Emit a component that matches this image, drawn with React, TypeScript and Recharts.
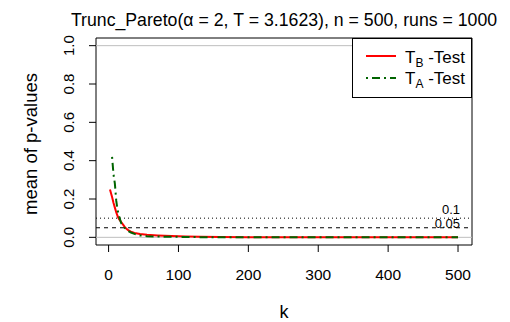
import { ComposedChart, Line, XAxis, YAxis, ReferenceLine, ReferenceArea } from 'recharts';

const kValues = [2, 5, 7, 9, 11, 13, 15, 18, 21, 24, 28, 32, 37, 45, 55, 70, 90, 110, 130, 160, 200, 300, 400, 500];
const tBValues = [0.25, 0.21, 0.18, 0.155, 0.13, 0.11, 0.095, 0.08, 0.065, 0.05, 0.037, 0.03, 0.023, 0.017, 0.013, 0.01, 0.007, 0.005, 0.003, 0.002, 0.001, 0.0005, 0.0003, 0.0002];
const tAValues = [null, 0.42, 0.33, 0.28, 0.19, 0.14, 0.11, 0.075, 0.058, 0.045, 0.033, 0.025, 0.018, 0.01, 0.006, 0.004, 0.003, 0.002, 0.001, 0.0005, 0.0004, 0.0002, 0.0001, 0.0001];
const xTicks = [0, 100, 200, 300, 400, 500];
const yTicks = [0, 0.2, 0.4, 0.6, 0.8, 1.0];

const data = kValues.map((k, i) => ({ k, tB: tBValues[i], tA: tAValues[i] }));

const FONT = '"Liberation Sans", Arial, sans-serif';

const YTick = ({ y, payload }: any) => (
  <text
    x={74}
    y={y}
    transform={`rotate(-90, 74, ${y})`}
    textAnchor="middle"
    fontSize={15}
    fontFamily={FONT}
    fill="#000"
  >
    {payload.value.toFixed(1)}
  </text>
);

const XTick = ({ x, payload }: any) => (
  <text x={x} y={280} textAnchor="middle" fontSize={15.5} fontFamily={FONT} fill="#000">
    {payload.value}
  </text>
);

const lineLabel = (txt: string, dy: number) => (props: any) => {
  const { viewBox } = props;
  return (
    <text
      x={viewBox.x + viewBox.width - 12}
      y={viewBox.y + dy}
      textAnchor="end"
      fontSize={13}
      fontFamily={FONT}
      fill="#000"
    >
      {txt}
    </text>
  );
};

export default function App() {
  return (
    <div style={{ position: 'absolute', left: 0, top: 0, width: 510, height: 322, background: '#fff' }}>
      <ComposedChart
        width={510}
        height={322}
        data={data}
        margin={{ top: 38, right: 38, left: 0, bottom: 0 }}
      >
        <XAxis
          dataKey="k"
          type="number"
          domain={[-18, 520]}
          ticks={xTicks}
          height={77}
          tickSize={7}
          axisLine={false}
          tickLine={{ stroke: '#000' }}
          tick={<XTick />}
          allowDataOverflow
        />
        <YAxis
          type="number"
          domain={[-0.04, 1.04]}
          ticks={yTicks}
          width={96}
          tickSize={7}
          axisLine={false}
          tickLine={{ stroke: '#000' }}
          tick={<YTick />}
          allowDataOverflow
        />
        <ReferenceLine y={0} stroke="#bebebe" strokeWidth={1} />
        <ReferenceLine y={1} stroke="#bebebe" strokeWidth={1} />
        <ReferenceLine y={0.1} stroke="#000" strokeDasharray="1 3" label={lineLabel('0.1', -4)} />
        <ReferenceLine y={0.05} stroke="#000" strokeDasharray="4 4" label={lineLabel('0.05', 0)} />
        <Line
          dataKey="tB"
          type="linear"
          stroke="#ff0000"
          strokeWidth={2}
          dot={false}
          isAnimationActive={false}
        />
        <Line
          dataKey="tA"
          type="linear"
          stroke="#006400"
          strokeWidth={2}
          strokeDasharray="2 4 8 4"
          dot={false}
          isAnimationActive={false}
        />
        <ReferenceArea
          x1={-18}
          x2={520}
          y1={-0.04}
          y2={1.04}
          fill="none"
          fillOpacity={0}
          stroke="#000"
          strokeWidth={1}
          ifOverflow="visible"
        />
      </ComposedChart>
      <svg
        width={510}
        height={322}
        style={{ position: 'absolute', left: 0, top: 0, pointerEvents: 'none' }}
        fontFamily={FONT}
      >
        <text x={284} y={26} textAnchor="middle" fontSize={17.7} fill="#000">
          Trunc_Pareto(α = 2, T = 3.1623), n = 500, runs = 1000
        </text>
        <text
          x={37}
          y={144}
          transform="rotate(-90, 37, 144)"
          textAnchor="middle"
          fontSize={18.5}
          fill="#000"
        >
          mean of p-values
        </text>
        <text x={284} y={318} textAnchor="middle" fontSize={18} fill="#000">
          k
        </text>
        <rect x={352.5} y={38.5} width={119} height={59} fill="#fff" stroke="#000" strokeWidth={1} />
        <line x1={366} y1={56} x2={396} y2={56} stroke="#ff0000" strokeWidth={2} />
        <line x1={366} y1={78} x2={396} y2={78} stroke="#006400" strokeWidth={2} strokeDasharray="2 4 8 4" />
        <text x={405} y={62.5} fontSize={17} fill="#000">
          T<tspan fontSize={12} dy={4}>B</tspan>
          <tspan dy={-4}> -Test</tspan>
        </text>
        <text x={405} y={83.5} fontSize={17} fill="#000">
          T<tspan fontSize={12} dy={4}>A</tspan>
          <tspan dy={-4}> -Test</tspan>
        </text>
      </svg>
    </div>
  );
}
